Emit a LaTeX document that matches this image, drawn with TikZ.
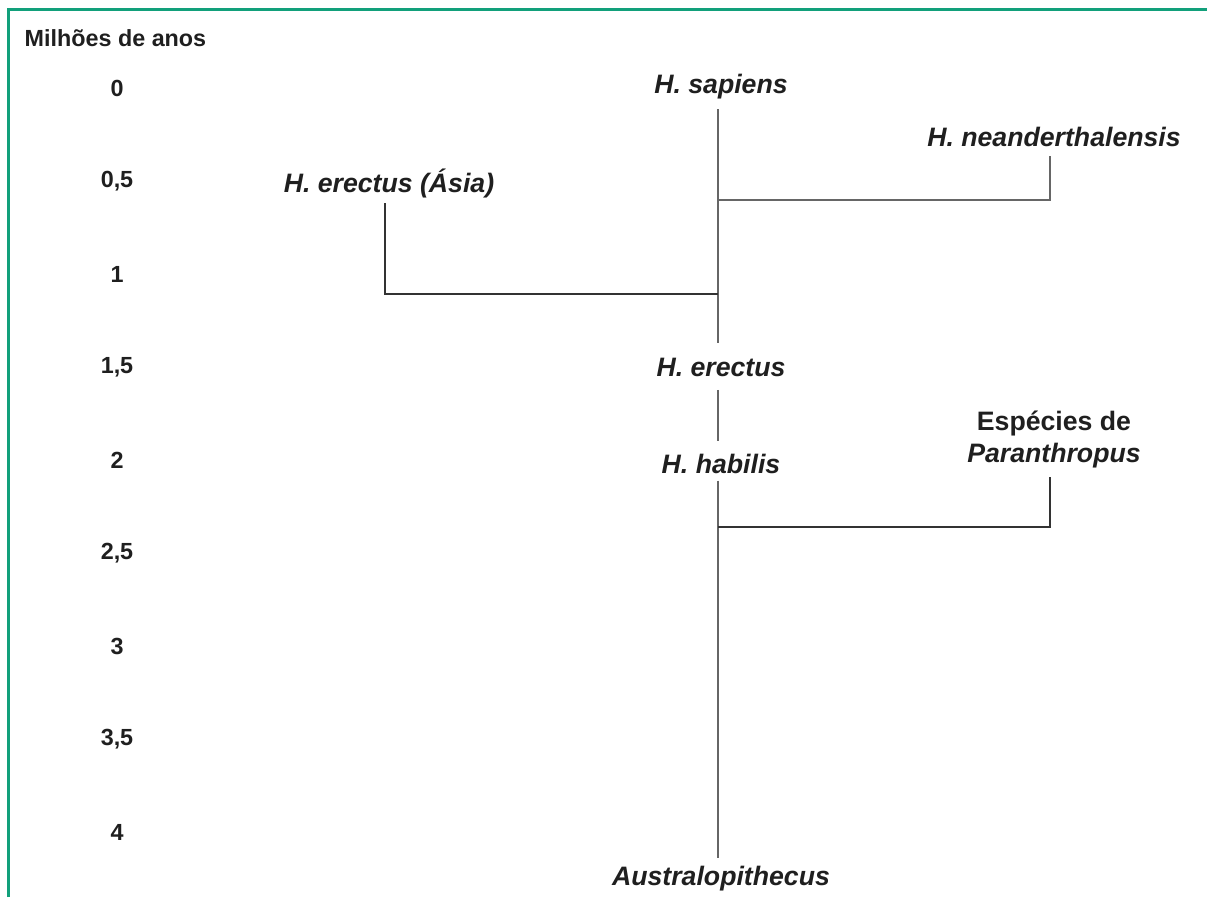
\documentclass[tikz,border=0pt]{standalone}
\usepackage{fontspec}
\setmainfont{Liberation Sans}
\usepackage{tikz}
\usetikzlibrary{positioning,calc}

\definecolor{frameGreen}{HTML}{12A07B}
\definecolor{lineGray}{HTML}{666666}
\definecolor{lineDark}{HTML}{333333}

\begin{document}
\begin{tikzpicture}[
    x=0.75pt, y=-0.75pt,
    axis/.style={font=\fontsize{17.5}{20}\selectfont\bfseries, text=black!88},
    taxon/.style={font=\fontsize{20}{24}\selectfont\bfseries\itshape, text=black!88,
                  inner sep=4pt, align=center},
    trunk/.style={lineGray, line width=1.1pt},
    branch/.style={lineDark, line width=0.9pt},
    frame/.style={frameGreen, line width=2.2pt},
  ]
  \useasboundingbox (0,0) rectangle (1207,897);

  % ============================== Frame ===================================
  \draw[frame] (8.5,897) |- (1207,9.5);

  % ============================== Time axis ===============================
  \node[axis, anchor=west] (unit) at (20,38) {Milhões de anos};
  \foreach \t/\k in {0/0, 0{,}5/1, 1/2, 1{,}5/3, 2/4, 2{,}5/5, 3/6, 3{,}5/7, 4/8} {
    \node[axis] (t\k) at (117,88+93*\k) {\t};
  }

  % ============================== Taxa ====================================
  \node[taxon] (sap) at (721,87)  {H. sapiens};
  \node[taxon] (nea) at (1054,137) {H. neanderthalensis};
  \node[taxon] (asi) at (389,183) {H. erectus (Ásia)};
  \node[taxon] (ere) at (721,367) {H. erectus};
  \node[taxon] (hab) at (721,464) {H. habilis};
  \node[taxon] (par) at (1054,439) {{\upshape Espécies de}\\Paranthropus};
  \node[taxon] (aus) at (721,879) {Australopithecus};

  % branch points on the main line
  \coordinate (jnea) at (718,200);
  \coordinate (jasi) at (718,294);
  \coordinate (jpar) at (718,527);

  % ============================== Lines ===================================
  \draw[trunk] ([xshift=-2.2pt,yshift=-3pt]sap.south) -- ([xshift=-2.2pt,yshift=7pt]ere.north);
  \draw[trunk] ([xshift=-2.2pt,yshift=-6pt]ere.south) -- ([xshift=-2.2pt,yshift=6pt]hab.north);
  \draw[trunk] ([xshift=-2.2pt,yshift=-1pt]hab.south) -- ([xshift=-2.2pt,yshift=2pt]aus.north);

  \draw[trunk] (jnea) -| ([xshift=-3pt,yshift=-3pt]nea.south);
  \draw[branch] (jasi) -| ([xshift=-3pt]asi.south);
  \draw[branch] (jpar) -| ([xshift=-3pt,yshift=-3pt]par.south);
\end{tikzpicture}
\end{document}
